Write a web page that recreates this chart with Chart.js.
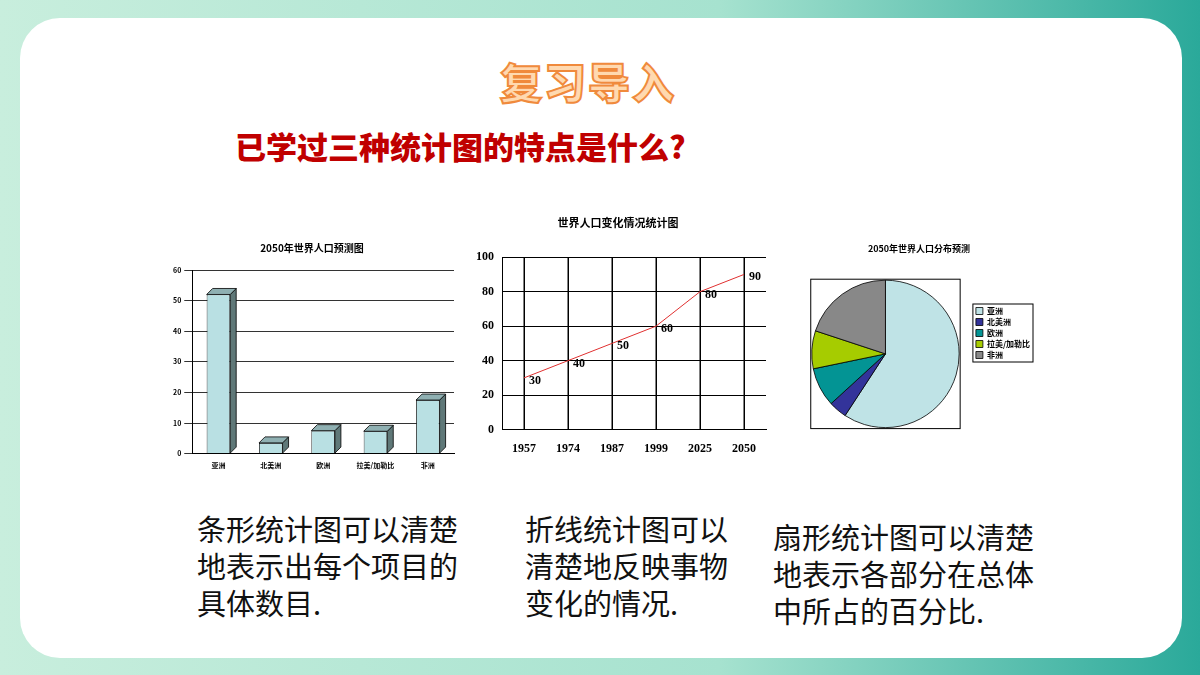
<!DOCTYPE html>
<html><head><meta charset="utf-8">
<script src="https://cdn.jsdelivr.net/npm/chart.js@4/dist/chart.umd.min.js"></script>
<style>
html,body{margin:0;padding:0;width:1200px;height:675px;overflow:hidden;font-family:"Noto Sans CJK SC",sans-serif;}
body{background:linear-gradient(90deg,#c8eedd 0%,#a6e2cf 60%,#2aa99a 100%);position:relative;}
#card{position:absolute;left:20px;top:18px;width:1162px;height:640px;background:#fff;border-radius:40px;}
.abs{position:absolute;}
#t1{left:500px;top:50px;font-size:42px;font-weight:900;color:#ffd9b0;-webkit-text-stroke:2px #f08a3c;letter-spacing:2px;}
#t2{left:235px;top:123px;font-size:31px;font-weight:900;color:#c00000;}
.txt{font-size:29px;line-height:37px;color:#111;}
</style></head><body>
<div id="card"></div>
<div id="t1" class="abs">复习导入</div>
<div id="t2" class="abs">已学过三种统计图的特点是什么?</div>
<div class="abs" style="left:170px;top:240px;width:292px;height:230px"><canvas id="c1"></canvas></div>
<div class="abs" style="left:468px;top:212px;width:300px;height:256px"><canvas id="c2"></canvas></div>
<div class="abs" style="left:782px;top:238px;width:268px;height:196px"><canvas id="c3"></canvas></div>
<div class="abs txt" style="left:197px;top:510px;width:275px">条形统计图可以清楚地表示出每个项目的具体数目.</div>
<div class="abs txt" style="left:525px;top:510px;width:215px">折线统计图可以清楚地反映事物变化的情况.</div>
<div class="abs txt" style="left:773px;top:518px;width:275px">扇形统计图可以清楚地表示各部分在总体中所占的百分比.</div>
<script>
const regions=["亚洲","北美洲","欧洲","拉美/加勒比","非洲"];
const barValues=[52,3.5,7.5,7.3,17.5];
const years=["1957","1974","1987","1999","2025","2050"];
const lineValues=[30,40,50,60,80,90];
const pieValues=[52,3.5,7.5,7.3,17.5];
const pieColors=["#bfe3e6","#33339a","#039494","#a6cc00","#888888"];
Chart.defaults.animation=false;
Chart.defaults.font.family='"Noto Sans CJK SC",sans-serif';
Chart.defaults.color="#000";

const bar3d={id:"bar3d",afterDatasetsDraw(ch){
  const ctx=ch.ctx,d=6;
  ch.getDatasetMeta(0).data.forEach(b=>{
    const l=b.x-b.width/2,r=b.x+b.width/2,t=b.y,bt=b.base;
    ctx.save();ctx.strokeStyle="#000";ctx.lineWidth=0.8;
    ctx.fillStyle="#5f7878";ctx.beginPath();ctx.moveTo(r,t);ctx.lineTo(r+d,t-d);ctx.lineTo(r+d,bt-d);ctx.lineTo(r,bt);ctx.closePath();ctx.fill();ctx.stroke();
    ctx.fillStyle="#8fb0b2";ctx.beginPath();ctx.moveTo(l,t);ctx.lineTo(l+d,t-d);ctx.lineTo(r+d,t-d);ctx.lineTo(r,t);ctx.closePath();ctx.fill();ctx.stroke();
    ctx.restore();});
}};
new Chart(document.getElementById("c1"),{type:"bar",
 data:{labels:regions,datasets:[{data:barValues,backgroundColor:"#b9e0e3",borderColor:"#000",borderWidth:0.8,barPercentage:0.45,categoryPercentage:1}]},
 options:{responsive:true,maintainAspectRatio:false,layout:{padding:{top:0,right:8}},
  plugins:{legend:{display:false},tooltip:{enabled:false},
   title:{display:true,text:"2050年世界人口预测图",font:{size:10,weight:"bold"},padding:{top:2,bottom:16}}},
  scales:{x:{grid:{display:false},border:{color:"#000"},ticks:{font:{size:7,weight:"bold"},padding:0}},
   y:{min:0,max:60,ticks:{stepSize:10,font:{size:7,weight:"bold"}},grid:{color:"#333"},border:{color:"#000"}}}},
 plugins:[bar3d]});

new Chart(document.getElementById("c2"),{type:"line",
 data:{labels:years,datasets:[{data:lineValues,borderColor:"#e03030",borderWidth:1,pointRadius:0,tension:0}]},
 options:{responsive:true,maintainAspectRatio:false,
  plugins:{legend:{display:false},tooltip:{enabled:false},
   title:{display:true,text:"世界人口变化情况统计图",font:{size:11,weight:"bold"},padding:{top:4,bottom:28}}},
  scales:{x:{offset:true,grid:{color:"#000",offset:false,drawTicks:false},border:{color:"#000"},ticks:{font:{family:"Liberation Serif",size:12,weight:"bold"},padding:12}},
   y:{min:0,max:100,ticks:{stepSize:20,font:{family:"Liberation Serif",size:12,weight:"bold"},padding:8},grid:{color:"#000",drawTicks:false},border:{color:"#000"}}}},
 plugins:[{id:"lbl",afterDatasetsDraw(ch){const ctx=ch.ctx;ctx.save();ctx.font='bold 12px "Liberation Serif"';ctx.fillStyle="#000";
  ch.getDatasetMeta(0).data.forEach((p,i)=>{ctx.fillText(lineValues[i],p.x+5,p.y+6);});ctx.restore();},
  beforeDatasetsDraw(ch){const ctx=ch.ctx,a=ch.chartArea,xs=ch.scales.x;ctx.save();ctx.strokeStyle="#000";ctx.lineWidth=1;
  years.forEach((y,i)=>{const x=xs.getPixelForValue(i);ctx.beginPath();ctx.moveTo(x,a.top);ctx.lineTo(x,a.bottom);ctx.stroke();});ctx.restore();}}]});

new Chart(document.getElementById("c3"),{type:"pie",
 data:{labels:regions,datasets:[{data:pieValues,backgroundColor:pieColors,borderColor:"#000",borderWidth:0.8}]},
 options:{responsive:true,maintainAspectRatio:false,layout:{padding:{left:16,top:0,bottom:6,right:10}},
  plugins:{tooltip:{enabled:false},
   title:{display:true,text:"2050年世界人口分布预测",font:{size:9,weight:"bold"},padding:{top:5,bottom:26}},
   legend:{position:"right",labels:{boxWidth:7,boxHeight:7,padding:3,font:{size:8,weight:"bold"},color:"#000"}}}},
 plugins:[{id:"boxes",afterDraw(ch){const ctx=ch.ctx,a=ch.chartArea,l=ch.legend;ctx.save();ctx.strokeStyle="#000";ctx.lineWidth=1;
  const m=ch.getDatasetMeta(0).data[0];const r=m.outerRadius;
  ctx.strokeRect(m.x-r-1,m.y-r-1,2*r+2,2*r+2);
  let top=l.legendHitBoxes[0].top-3,bot=l.legendHitBoxes[l.legendHitBoxes.length-1].top+l.legendHitBoxes[0].height+3;
  let left=Math.min(...l.legendHitBoxes.map(h=>h.left))-3,right=Math.max(...l.legendHitBoxes.map(h=>h.left+h.width))+3;
  ctx.strokeRect(left,top,right-left,bot-top);ctx.restore();}}]});
</script></body></html>
